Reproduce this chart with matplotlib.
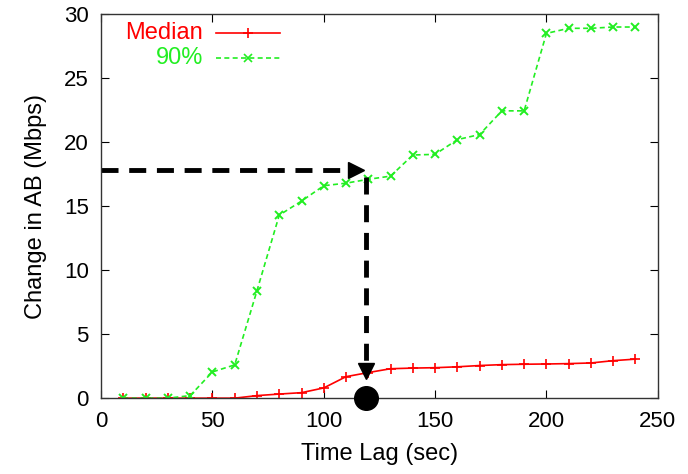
#!/usr/bin/env python3

import matplotlib.pyplot as plt
from matplotlib.lines import Line2D

plt.rcParams['font.family'] = ['Liberation Sans', 'DejaVu Sans']

# Time lag (sec) for both series
time_lag = [10, 20, 30, 40, 50, 60, 70, 80, 90, 100, 110, 120,
            130, 140, 150, 160, 170, 180, 190, 200, 210, 220, 230, 240]

# Change in available bandwidth (Mbps)
median = [0, 0, 0, 0, 0, 0, 0.2, 0.32, 0.43, 0.8, 1.68, 2.0,
          2.3, 2.35, 2.38, 2.45, 2.55, 2.62, 2.65, 2.67, 2.7, 2.75, 2.93, 3.05]
p90 = [0, 0, 0, 0.2, 2.05, 2.6, 8.4, 14.3, 15.4, 16.6, 16.8, 17.1,
       17.35, 19.0, 19.05, 20.2, 20.6, 22.45, 22.45, 28.5, 28.9, 28.9, 29.0, 29.0]

# Annotation: read-off point
mark_x = 119
mark_y = 17.8

fig = plt.figure(figsize=(6.88, 4.74), dpi=100)
ax = fig.add_axes([0.147, 0.160, 0.809, 0.810])

ax.plot(time_lag, median, color='#ff0000', lw=1.2, marker='+', ms=7, mew=1.2)
ax.plot(time_lag, p90, color='#22ee22', lw=1.2, ls=(0, (3, 2)), marker='x', ms=6, mew=1.4)

# dashed arrows
ax.plot([0, mark_x - 8], [mark_y, mark_y], color='black', lw=3.5, ls=(0, (3.5, 2.2)))
ax.plot(mark_x - 4.5, mark_y, marker='>', color='black', ms=11)
ax.plot([mark_x, mark_x], [17.3, 2.8], color='black', lw=3.5, ls=(0, (3.5, 2.2)))
ax.plot(mark_x, 2.1, marker='v', color='black', ms=11)
ax.plot(mark_x, 0, marker='o', color='black', ms=17, clip_on=False, zorder=5)

ax.set_xlim(0, 250)
ax.set_ylim(0, 30)
ax.set_xticks(range(0, 251, 50))
ax.set_yticks(range(0, 31, 5))
ax.tick_params(direction='in', top=True, right=True, length=6, labelsize=16)
ax.tick_params(axis='x', pad=9)
ax.tick_params(axis='y', pad=9)
ax.set_xlabel("Time Lag (sec)", fontsize=17, labelpad=8)
ax.set_ylabel("Change in AB (Mbps)", fontsize=17, labelpad=12)
for s in ax.spines.values():
    s.set_linewidth(1.0)
    s.set_color('#333333')

# gnuplot-style key: text right-aligned, sample after it
for i, (label, color, ls, mk, ms) in enumerate([
        ("Median", '#ff0000', '-', '+', 7),
        ("90%", '#22ee22', (0, (3, 2)), 'x', 6)]):
    y = 0.950 - i * 0.064
    ax.text(0.183, y, label, color=color, fontsize=17, ha='right', va='center',
            transform=ax.transAxes)
    ax.add_line(Line2D([0.206, 0.321], [y, y], color=color, lw=1.2, ls=ls,
                       transform=ax.transAxes))
    ax.add_line(Line2D([0.2635], [y], color=color, marker=mk, ms=ms, mew=1.2,
                       transform=ax.transAxes))

fig.savefig("out.png")
